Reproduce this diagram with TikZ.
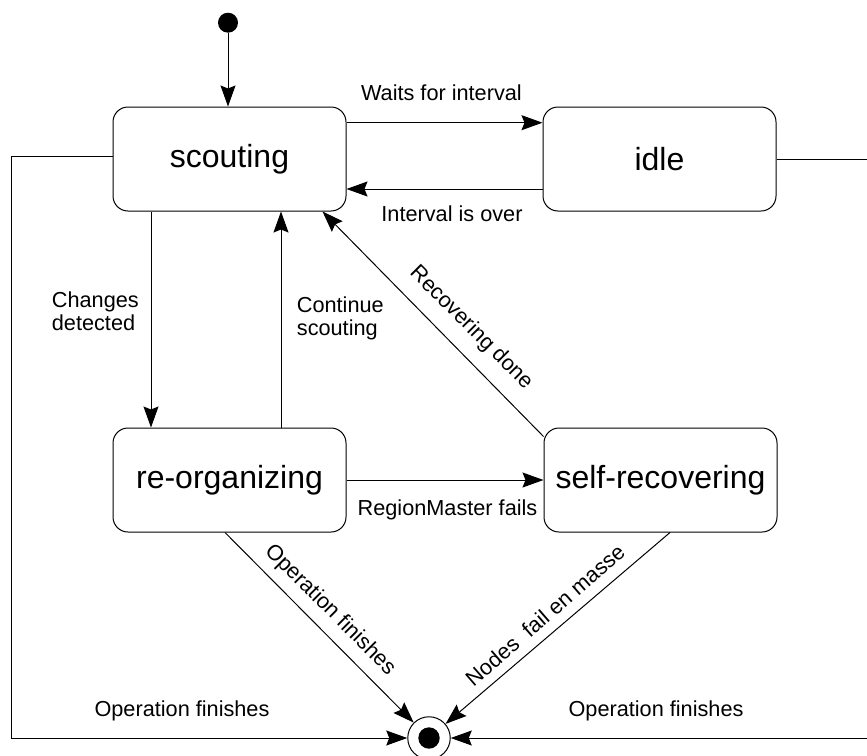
\documentclass[tikz,border=0pt]{standalone}
\usepackage{fontspec}
\setmainfont{Liberation Sans}
\usetikzlibrary{arrows.meta}
\begin{document}
\begin{tikzpicture}[x=1pt,y=-1pt,
  state/.style={draw, line width=1pt, rounded corners=15pt, minimum width=233pt,
    minimum height=104pt, inner sep=0pt, font=\fontsize{32}{38}\selectfont},
  lbl/.style={inner sep=0pt, font=\fontsize{21.7}{23}\selectfont},
  tr/.style={line width=1pt, -{Stealth[length=21pt,width=15pt,inset=3pt]}},
]
\useasboundingbox (0,0) rectangle (867,755);
\fill[white] (0,0) rectangle (867,755);

% states
\node[state] (scouting) at (229.5,159) {scouting};
\node[state] (idle)     at (659.5,159) {idle};
\node[state] (reorg)    at (229.5,480) {re-organizing};
\node[state] (selfrec)  at (660.5,480) {self-recovering};

% pseudo states
\node[circle, fill, minimum size=20pt, inner sep=0pt] (init) at (228,22.7) {};
\node[circle, draw, line width=1pt, minimum size=42.5pt, inner sep=0pt] (final) at (429,738) {};
\node[circle, fill, minimum size=21.4pt, inner sep=0pt] (finaldot) at (final.center) {};

% corner points of the two outer loops
\coordinate (lt) at (11,156);
\coordinate (lb) at (11,738);
\coordinate (rt) at (870,159);
\coordinate (rb) at (870,738);

% transitions
\draw[tr] (init) -- (init |- scouting.north);
\draw[tr] ([yshift=36.3pt]scouting.east) -- ([yshift=36.3pt]scouting.east -| idle.west);
\draw[tr] ([yshift=-30pt]idle.west) -- ([yshift=-30pt]idle.west -| scouting.east);
\draw[tr] ([xshift=-78.5pt]scouting.south) -- ([xshift=-78.5pt]reorg.north);
\draw[tr] ([xshift=51.5pt]reorg.north) -- ([xshift=51.5pt]scouting.south);
\draw[tr] (reorg) -- (selfrec);
\draw[tr] ([yshift=-9pt]selfrec.north west) -- ([xshift=-24pt]scouting.south east);
\draw[tr] ([xshift=-4.5pt]reorg.south) -- (final);
\draw[tr] ([xshift=9.5pt]selfrec.south) -- (final);
\draw[tr] ([yshift=3pt]scouting.west) -- (lt) -- (lb) -- (final.west);
\draw[tr] (idle.east) -- (rt) -- (rb) -- (final.east);

% transition labels
\node[lbl, anchor=base] (lwait) at (441.4,100) {Waits for interval};
\node[lbl, anchor=base] (lover) at (452,221.7) {Interval is over};
\node[lbl, anchor=base west] (lchg) at (51.7,307.3)
  {\begin{tabular}[t]{@{}l@{}}Changes\\detected\end{tabular}};
\node[lbl, anchor=base west] (lcont) at (296.7,312.3)
  {\begin{tabular}[t]{@{}l@{}}Continue\\scouting\end{tabular}};
\node[lbl, rotate=-45] (lrec) at (471,328) {Recovering done};
\node[lbl, anchor=base] (lrm) at (447.5,515) {RegionMaster fails};
\node[lbl, rotate=-45] (lopf) at (330,610) {Operation finishes};
\node[lbl, rotate=41] (lnodes) at (545,615) {Nodes\ \ fail en masse};
\node[lbl, anchor=base] (lopl) at (182,716) {Operation finishes};
\node[lbl, anchor=base] (lopr) at (656,716) {Operation finishes};
\end{tikzpicture}
\end{document}
